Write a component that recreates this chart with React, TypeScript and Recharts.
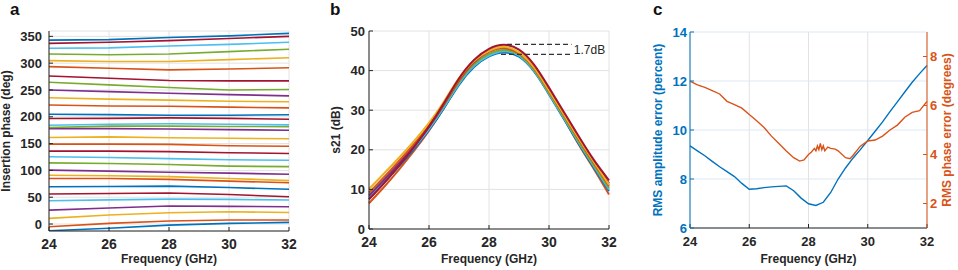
import {
  CartesianGrid,
  ComposedChart,
  Label,
  Line,
  ReferenceDot,
  ReferenceLine,
  XAxis,
  YAxis,
} from "recharts";

const FONT = '"Liberation Sans", Arial, sans-serif';
const INK = "#262626";
const GRID = "#e2e2e2";

const BLUE = "#0072BD";
const ORANGE = "#D95319";
const YELLOW = "#EDB120";
const PURPLE = "#7E2F8E";
const GREEN = "#77AC30";
const LTBLUE = "#4DBEEE";
const DKRED = "#A2142F";

const freqTicks = [24, 26, 28, 30, 32];

// panel a: insertion phase of each phase state, bottom to top
const phaseFreq = [24, 26, 28, 30, 32];
const phaseStates = [
  [-12.4, -8, -2, 1.2, 3],
  [-5, 1.2, 5.6, 7.4, 7.4],
  [10.6, 16.8, 21, 22.8, 21.6],
  [26, 30, 33.5, 33, 32.3],
  [43.4, 45, 46.5, 46, 44.7],
  [55.9, 57, 58, 55, 50.9],
  [69.5, 70, 70.7, 68, 64.8],
  [85, 85, 83.3, 80, 77],
  [91, 90, 88.5, 85, 81],
  [100.5, 98.7, 96.5, 95, 92.8],
  [114, 113, 111, 108, 107],
  [125.4, 124, 122, 120, 118.9],
  [136, 136, 135, 133, 131.6],
  [149, 149, 148.5, 146, 145],
  [161.4, 162.5, 160.9, 160, 159],
  [178, 178, 177.3, 176, 175],
  [180, 182.6, 182.6, 182, 181.5],
  [184.3, 186, 187, 186, 185],
  [196.7, 197, 198, 197, 195.4],
  [204.8, 204, 203, 203, 203.8],
  [222, 220, 219.7, 218, 216.6],
  [235.5, 233, 231, 229, 228],
  [250, 247, 244, 241.4, 239],
  [264.4, 259.5, 254.5, 250, 251],
  [276, 272, 267.7, 267, 267],
  [293.6, 290.5, 287.5, 289, 291.5],
  [304.7, 303, 303, 306.6, 310],
  [317, 315.6, 317, 321.6, 326],
  [327.7, 328.6, 332, 335, 339],
  [337, 339, 342, 346, 350],
  [343, 344, 348, 351, 355.5],
];
const phaseColors = [
  BLUE, ORANGE, YELLOW, PURPLE, LTBLUE, DKRED, BLUE, ORANGE, YELLOW, PURPLE,
  GREEN, LTBLUE, DKRED, ORANGE, YELLOW, PURPLE, GREEN, LTBLUE, DKRED, BLUE,
  ORANGE, YELLOW, PURPLE, GREEN, DKRED, ORANGE, YELLOW, GREEN, LTBLUE, DKRED, BLUE,
];
const phaseTicks = [0, 50, 100, 150, 200, 250, 300, 350];

// panel b: s21 of the gain states
const gainFreq = [24, 24.5, 25, 25.5, 26, 26.5, 27, 27.5, 28, 28.5, 29, 29.5, 30, 30.5, 31, 31.5, 32];
const gainStates = [
  [6.5, 10.6, 15.0, 19.7, 24.8, 30.6, 36.7, 41.3, 44.0, 45.1, 44.2, 40.6, 34.5, 27.9, 21.2, 15.1, 8.7],
  [7.6, 11.6, 15.8, 20.2, 25.0, 30.5, 36.4, 40.9, 43.6, 44.6, 43.5, 39.8, 34.0, 27.7, 21.4, 15.4, 9.6],
  [8.0, 12.0, 16.2, 20.6, 25.3, 30.8, 36.7, 41.2, 43.8, 44.9, 43.8, 40.0, 34.2, 28.0, 21.7, 15.8, 10.0],
  [8.7, 12.6, 16.7, 21.0, 25.7, 31.2, 37.1, 41.6, 44.2, 45.2, 44.0, 40.2, 34.4, 28.2, 22.0, 16.1, 10.4],
  [8.4, 12.4, 16.6, 21.0, 25.8, 31.5, 37.5, 42.1, 44.8, 45.7, 44.4, 40.7, 35.0, 28.9, 22.8, 17.0, 11.5],
  [9.2, 13.1, 17.2, 21.5, 26.2, 31.7, 37.6, 42.2, 44.8, 45.7, 44.4, 40.6, 34.8, 28.7, 22.5, 16.6, 10.9],
  [10.1, 14.0, 18.0, 22.2, 26.8, 32.2, 38.1, 42.5, 45.0, 46.0, 44.6, 40.8, 35.0, 28.9, 22.8, 16.9, 11.2],
  [7.5, 11.6, 16.0, 20.7, 25.9, 31.8, 38.0, 42.7, 45.5, 46.5, 45.3, 41.5, 35.7, 29.5, 23.3, 17.4, 12.3],
];
const gainColors = [ORANGE, BLUE, LTBLUE, GREEN, PURPLE, ORANGE, YELLOW, DKRED];
const gainTicks = [0, 10, 20, 30, 40, 50];
const spreadTop = 46.6;
const spreadBottom = 44.1;

// panel c: rms errors
const ampFreq = [
  24, 24.25, 24.5, 24.75, 25, 25.25, 25.5, 25.75, 26, 26.25, 26.5, 26.75, 27, 27.25, 27.5, 27.75,
  28, 28.25, 28.5, 28.75, 29, 29.25, 29.5, 29.75, 30, 30.25, 30.5, 30.75, 31, 31.25, 31.5, 31.75, 32,
];
const ampErr = [
  9.35, 9.15, 8.95, 8.72, 8.5, 8.3, 8.1, 7.82, 7.58, 7.6, 7.65, 7.68, 7.7, 7.72, 7.52, 7.22,
  6.99, 6.92, 7.05, 7.45, 8.0, 8.45, 8.85, 9.2, 9.57, 9.95, 10.33, 10.75, 11.15, 11.55, 11.95, 12.3, 12.63,
];
const phaseErrFreq = [
  24, 24.25, 24.5, 24.75, 25, 25.25, 25.5, 25.75, 26, 26.25, 26.5, 26.75, 27, 27.25, 27.5, 27.7, 27.85,
  28, 28.1, 28.2, 28.25, 28.3, 28.35, 28.4, 28.45, 28.5, 28.55, 28.65, 28.75, 28.9, 29, 29.25, 29.4,
  29.5, 29.75, 30, 30.25, 30.5, 30.75, 31, 31.25, 31.5, 31.75, 32,
];
const phaseErr = [
  6.99, 6.84, 6.74, 6.61, 6.47, 6.17, 6.04, 5.89, 5.63, 5.38, 5.1, 4.75, 4.45, 4.14, 3.87, 3.73, 3.78,
  4.0, 4.1, 4.25, 4.15, 4.35, 4.2, 4.45, 4.2, 4.35, 4.15, 4.3, 4.25, 4.22, 4.15, 3.87, 3.83,
  3.96, 4.34, 4.55, 4.59, 4.75, 5.0, 5.2, 5.52, 5.72, 5.79, 6.17,
];

const phaseData = phaseFreq.map((f, i) => {
  const row: Record<string, number> = { f };
  phaseStates.forEach((s, j) => (row["p" + j] = s[i]));
  return row;
});
const gainData = gainFreq.map((f, i) => {
  const row: Record<string, number> = { f };
  gainStates.forEach((s, j) => (row["g" + j] = s[i]));
  return row;
});
const ampData = ampFreq.map((f, i) => ({ f, v: ampErr[i] }));
const phaseErrData = phaseErrFreq.map((f, i) => ({ f, v: phaseErr[i] }));

const tickFont = (fill: string, size = 13) => ({ fill, fontSize: size, fontWeight: 700, fontFamily: FONT });
const titleStyle = (fill: string) => ({ fill, fontSize: 12, fontWeight: 700, fontFamily: FONT, textAnchor: "middle" as const });

function PhasePanel() {
  return (
    <ComposedChart width={320} height={270} data={phaseData} margin={{ top: 31, right: 31, bottom: 6, left: 0 }}>
      <CartesianGrid stroke={GRID} />
      <XAxis dataKey="f" type="number" domain={[24, 32]} ticks={freqTicks} height={33} stroke={INK}
        tickSize={-4} tickMargin={12} tick={tickFont(INK, 14)}>
        <Label value="Frequency (GHz)" position="insideBottom" offset={1} style={titleStyle(INK)} />
      </XAxis>
      <XAxis xAxisId="top" orientation="top" dataKey="f" type="number" domain={[24, 32]} ticks={freqTicks}
        height={0} stroke={INK} tickSize={-4} tick={false} />
      <YAxis type="number" domain={[-13, 360]} ticks={phaseTicks} width={49} stroke={INK} allowDataOverflow
        tickSize={-4} tickMargin={11} tick={tickFont(INK, 13)}>
        <Label value="Insertion phase (deg)" angle={-90} position="insideLeft" offset={6} style={titleStyle(INK)} />
      </YAxis>
      <YAxis yAxisId="right" orientation="right" type="number" domain={[-13, 360]} ticks={phaseTicks} width={0}
        stroke={INK} tickSize={-4} tick={false} />
      {phaseStates.map((_, j) => (
        <Line key={j} type="linear" dataKey={"p" + j} stroke={phaseColors[j]} strokeWidth={1.6}
          dot={false} isAnimationActive={false} />
      ))}
    </ComposedChart>
  );
}

function GainPanel() {
  return (
    <ComposedChart width={320} height={270} data={gainData} margin={{ top: 31, right: 31, bottom: 6, left: 0 }}>
      <CartesianGrid stroke={GRID} />
      <XAxis dataKey="f" type="number" domain={[24, 32]} ticks={freqTicks} height={35} stroke={INK}
        tickSize={-4} tickMargin={12} tick={tickFont(INK, 14)}>
        <Label value="Frequency (GHz)" position="insideBottom" offset={1} style={titleStyle(INK)} />
      </XAxis>
      <XAxis xAxisId="top" orientation="top" dataKey="f" type="number" domain={[24, 32]} ticks={freqTicks}
        height={0} stroke={INK} tickSize={-4} tick={false} />
      <YAxis type="number" domain={[0, 50]} ticks={gainTicks} width={49} stroke={INK}
        tickSize={-4} tickMargin={8} tick={tickFont(INK, 13)}>
        <Label value="s21 (dB)" angle={-90} position="insideLeft" offset={16} style={titleStyle(INK)} />
      </YAxis>
      <YAxis yAxisId="right" orientation="right" type="number" domain={[0, 50]} ticks={gainTicks} width={0}
        stroke={INK} tickSize={-4} tick={false} />
      {gainStates.map((_, j) => (
        <Line key={j} type="natural" dataKey={"g" + j} stroke={gainColors[j]} strokeWidth={2}
          dot={false} isAnimationActive={false} />
      ))}
      <ReferenceLine segment={[{ x: 28.6, y: spreadTop }, { x: 30.75, y: spreadTop }]} stroke="#333"
        strokeWidth={1.3} strokeDasharray="5 3" ifOverflow="visible" />
      <ReferenceLine segment={[{ x: 28.4, y: spreadBottom }, { x: 30.75, y: spreadBottom }]} stroke="#333"
        strokeWidth={1.3} strokeDasharray="5 3" ifOverflow="visible" />
      <ReferenceDot x={31.35} y={(spreadTop + spreadBottom) / 2} r={0} fill="none" stroke="none"
        label={{ value: "1.7dB", position: "center", fill: INK, fontSize: 12, fontFamily: FONT }} />
    </ComposedChart>
  );
}

function ErrorPanel() {
  return (
    <ComposedChart width={318} height={270} margin={{ top: 32, right: 0, bottom: 6, left: 0 }}>
      <CartesianGrid yAxisId="left" stroke={GRID} horizontal={false} />
      <CartesianGrid yAxisId="left" stroke="#dbe8f4" vertical={false} />
      <XAxis dataKey="f" type="number" domain={[24, 32]} ticks={freqTicks} height={36} stroke={INK}
        tickSize={-4} tickMargin={13} tick={tickFont(INK, 13)}>
        <Label value="Frequency (GHz)" position="insideBottom" offset={1} style={titleStyle(INK)} />
      </XAxis>
      <XAxis xAxisId="top" orientation="top" dataKey="f" type="number" domain={[24, 32]} ticks={freqTicks}
        height={0} stroke={INK} tickSize={-4} tick={false} />
      <YAxis yAxisId="left" type="number" domain={[6, 14]} ticks={[6, 8, 10, 12, 14]} width={50} stroke={BLUE}
        tickSize={-4} tickMargin={7} tick={tickFont(BLUE, 13)}>
        <Label value="RMS amplitude error (percent)" angle={-90} position="insideLeft" offset={18}
          style={titleStyle(BLUE)} />
      </YAxis>
      <YAxis yAxisId="right" orientation="right" type="number" domain={[1, 9]} ticks={[2, 4, 6, 8]} width={31}
        stroke={ORANGE} tickSize={-4} tickMargin={7} tick={tickFont(ORANGE, 13)}>
        <Label value="RMS phase error (degrees)" angle={-90} position="insideRight" offset={11}
          style={titleStyle(ORANGE)} />
      </YAxis>
      <Line yAxisId="left" data={ampData} dataKey="v" type="linear" stroke={BLUE} strokeWidth={1.4}
        dot={false} isAnimationActive={false} />
      <Line yAxisId="right" data={phaseErrData} dataKey="v" type="linear" stroke={ORANGE} strokeWidth={1.4}
        dot={false} isAnimationActive={false} />
    </ComposedChart>
  );
}

const letterStyle = { position: "absolute" as const, top: 0, fontSize: 17, fontWeight: 700, fontFamily: FONT, color: "#111" };

export default function App() {
  return (
    <div style={{ position: "fixed", left: 0, top: 0, width: 958, height: 270, background: "#fff", fontFamily: FONT }}>
      <div style={{ ...letterStyle, left: 10 }}>a</div>
      <div style={{ ...letterStyle, left: 330 }}>b</div>
      <div style={{ ...letterStyle, left: 653 }}>c</div>
      <div style={{ position: "absolute", left: 0, top: 0 }}>
        <PhasePanel />
      </div>
      <div style={{ position: "absolute", left: 320, top: 0 }}>
        <GainPanel />
      </div>
      <div style={{ position: "absolute", left: 640, top: 0 }}>
        <ErrorPanel />
      </div>
    </div>
  );
}
